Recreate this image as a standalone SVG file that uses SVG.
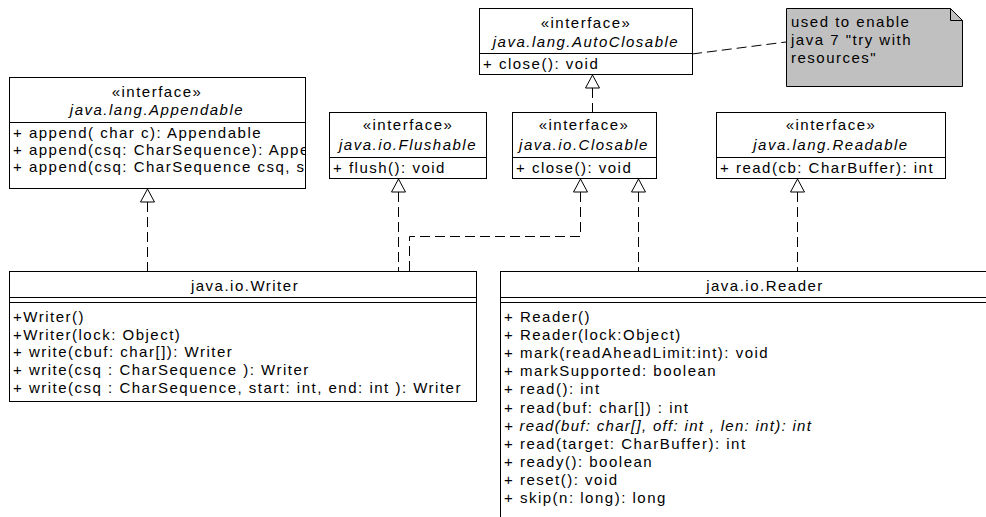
<svg xmlns="http://www.w3.org/2000/svg" width="986" height="517" viewBox="0 0 986 517">
  <defs>
    <style>
      text { font-family: "Liberation Sans", Arial, sans-serif; font-size: 15px; letter-spacing: 1.5px; fill: #000; }
      .c { text-anchor: middle; }
      .i { font-style: italic; }
      .op { letter-spacing: 1.3px; }
      .box { fill: #fff; stroke: #000; stroke-width: 1; }
      .sep { stroke: #000; stroke-width: 1; fill: none; }
      .note { fill: #c0c0c0; stroke: #000; stroke-width: 1; }
      .dash { fill: none; stroke: #000; stroke-width: 1; stroke-dasharray: 10 5; }
      .tri { fill: #fff; stroke: #000; stroke-width: 1; }
    </style>
    <clipPath id="clipAppendable">
      <rect x="10" y="78" width="295" height="110"/>
    </clipPath>
  </defs>

  <!-- realization / note connectors -->
  <g id="connectors">
    <line class="dash" x1="692" y1="54" x2="786" y2="42"/>
    <line class="dash" x1="592.5" y1="88" x2="592.5" y2="112"/>
    <line class="dash" x1="147.5" y1="202" x2="147.5" y2="271"/>
    <line class="dash" x1="398.5" y1="192" x2="398.5" y2="271"/>
    <polyline class="dash" points="580.5,192 580.5,236.5 409.5,236.5 409.5,271"/>
    <line class="dash" x1="638.5" y1="192" x2="638.5" y2="271"/>
    <line class="dash" x1="797.5" y1="192" x2="797.5" y2="271"/>
    <polygon class="tri" points="592.5,75 585.5,88 599.5,88"/>
    <polygon class="tri" points="147.5,189 140.5,202 154.5,202"/>
    <polygon class="tri" points="398.5,179 391.5,192 405.5,192"/>
    <polygon class="tri" points="580.5,179 573.5,192 587.5,192"/>
    <polygon class="tri" points="638.5,179 631.5,192 645.5,192"/>
    <polygon class="tri" points="797.5,179 790.5,192 804.5,192"/>
  </g>

  <g id="autoclosable">
    <rect class="box" x="479.5" y="8.5" width="213" height="66"/>
    <line class="sep" x1="479.5" y1="53.5" x2="692.5" y2="53.5"/>
    <text class="c" x="586" y="28">«interface»</text>
    <text class="c i" x="586" y="47">java.lang.AutoClosable</text>
    <text x="483" y="69">+ close(): void</text>
  </g>

  <g id="note">
    <polygon class="note" points="786.5,8.5 950.5,8.5 962.5,20.5 962.5,86.5 786.5,86.5"/>
    <polyline class="sep" points="950.5,8.5 950.5,20.5 962.5,20.5"/>
    <text x="791" y="27">used to enable</text>
    <text x="791" y="45">java 7 "try with</text>
    <text x="791" y="63">resources"</text>
  </g>

  <g id="appendable">
    <rect class="box" x="9.5" y="77.5" width="296" height="111"/>
    <line class="sep" x1="9.5" y1="122.5" x2="305.5" y2="122.5"/>
    <text class="c" x="157" y="97">«interface»</text>
    <text class="c i" x="157" y="115">java.lang.Appendable</text>
    <g clip-path="url(#clipAppendable)">
      <text x="13" y="138">+ append( char c): Appendable</text>
      <text x="13" y="155">+ append(csq: CharSequence): Appe</text>
      <text x="13" y="172">+ append(csq: CharSequence csq, s</text>
    </g>
  </g>

  <g id="flushable">
    <rect class="box" x="329.5" y="112.5" width="157" height="66"/>
    <line class="sep" x1="329.5" y1="157.5" x2="486.5" y2="157.5"/>
    <text class="c" x="408" y="130">«interface»</text>
    <text class="c i" x="408" y="150">java.io.Flushable</text>
    <text x="333" y="173">+ flush(): void</text>
  </g>

  <g id="closable">
    <rect class="box" x="512.5" y="112.5" width="144" height="66"/>
    <line class="sep" x1="512.5" y1="157.5" x2="656.5" y2="157.5"/>
    <text class="c" x="584" y="130">«interface»</text>
    <text class="c i" x="584" y="150">java.io.Closable</text>
    <text x="516" y="173">+ close(): void</text>
  </g>

  <g id="readable">
    <rect class="box" x="716.5" y="112.5" width="229" height="66"/>
    <line class="sep" x1="716.5" y1="157.5" x2="945.5" y2="157.5"/>
    <text class="c" x="831" y="130">«interface»</text>
    <text class="c i" x="831" y="150">java.lang.Readable</text>
    <text x="720" y="173">+ read(cb: CharBuffer): int</text>
  </g>

  <g id="writer">
    <rect class="box" x="9.5" y="271.5" width="467" height="130"/>
    <line class="sep" x1="9.5" y1="297.5" x2="476.5" y2="297.5"/>
    <line class="sep" x1="9.5" y1="302.5" x2="476.5" y2="302.5"/>
    <text class="c" x="245" y="291">java.io.Writer</text>
    <text x="13" y="322">+Writer()</text>
    <text x="13" y="339.7">+Writer(lock: Object)</text>
    <text x="13" y="357.4">+ write(cbuf: char[]): Writer</text>
    <text x="13" y="375.1">+ write(csq : CharSequence ): Writer</text>
    <text x="13" y="392.8">+ write(csq : CharSequence, start: int, end: int ): Writer</text>
  </g>

  <g id="reader">
    <rect class="box" x="500.5" y="271.5" width="530" height="300"/>
    <line class="sep" x1="500.5" y1="297.5" x2="1030.5" y2="297.5"/>
    <line class="sep" x1="500.5" y1="302.5" x2="1030.5" y2="302.5"/>
    <text class="c" x="765" y="291">java.io.Reader</text>
    <text x="504" y="322">+ Reader()</text>
    <text x="504" y="340.1">+ Reader(lock:Object)</text>
    <text x="504" y="358.2">+ mark(readAheadLimit:int): void</text>
    <text x="504" y="376.3">+ markSupported: boolean</text>
    <text x="504" y="394.4">+ read(): int</text>
    <text x="504" y="412.5">+ read(buf: char[]) : int</text>
    <text class="i op" x="504" y="430.6">+ read(buf: char[], off: int , len: int): int</text>
    <text x="504" y="448.7">+ read(target: CharBuffer): int</text>
    <text x="504" y="466.8">+ ready(): boolean</text>
    <text x="504" y="484.9">+ reset(): void</text>
    <text x="504" y="503">+ skip(n: long): long</text>
  </g>
</svg>
